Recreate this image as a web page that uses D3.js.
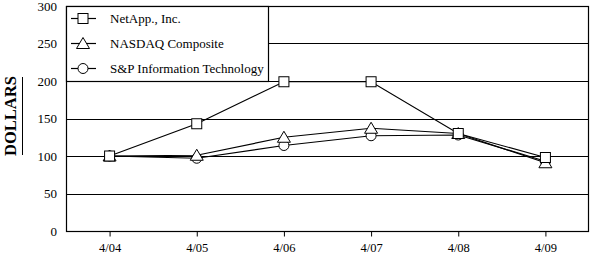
<!DOCTYPE html>
<html>
<head>
<meta charset="utf-8">
<script src="https://cdn.jsdelivr.net/npm/d3@7"></script>
<style>
  body { margin: 0; background: #fff; }
  text { font-family: "Liberation Serif", "Times New Roman", serif; fill: #000; }
</style>
</head>
<body>
<script>
const MARGIN = { top: 6, right: 2, bottom: 23, left: 66 };
const WIDTH = 591 - MARGIN.left - MARGIN.right;
const HEIGHT = 254 - MARGIN.top - MARGIN.bottom;

const years = ["4/04", "4/05", "4/06", "4/07", "4/08", "4/09"];
const netapp = [100, 143, 199, 199, 130, 98];
const nasdaq = [100, 101, 125, 137, 130, 91];
const spit = [100, 97, 114, 127, 128, 93];
const yTicks = [0, 50, 100, 150, 200, 250, 300];

const series = [
  { name: "NetApp., Inc.", values: netapp, marker: "square" },
  { name: "NASDAQ Composite", values: nasdaq, marker: "triangle" },
  { name: "S&P Information Technology", values: spit, marker: "circle" }
];

const svg = d3.select("body").append("svg")
  .attr("width", 591)
  .attr("height", 254);

const g = svg.append("g")
  .attr("transform", "translate(" + MARGIN.left + "," + MARGIN.top + ")");

const x = d3.scalePoint().domain(years).range([0, WIDTH]).padding(0.5);
const y = d3.scaleLinear().domain([0, 300]).range([HEIGHT, 0]);

// gridlines
g.selectAll(".grid")
  .data(yTicks)
  .enter()
  .append("line")
  .attr("x1", 0)
  .attr("x2", WIDTH)
  .attr("y1", d => Math.round(y(d)) + 0.5)
  .attr("y2", d => Math.round(y(d)) + 0.5)
  .attr("stroke", "#000")
  .attr("stroke-width", 1.2);

// frame
g.append("rect")
  .attr("x", 0.5).attr("y", 0.5)
  .attr("width", WIDTH - 1).attr("height", HEIGHT)
  .attr("fill", "none")
  .attr("stroke", "#000")
  .attr("stroke-width", 1.2);

// y labels
g.selectAll(".ylab")
  .data(yTicks)
  .enter()
  .append("text")
  .attr("x", -9)
  .attr("y", d => y(d))
  .attr("dy", "0.35em")
  .attr("text-anchor", "end")
  .attr("font-size", 13)
  .text(d => d);

// x axis
const xAxis = g.append("g")
  .attr("transform", "translate(0," + (HEIGHT + 0.5) + ")")
  .call(d3.axisBottom(x).tickSize(5).tickPadding(7));
xAxis.attr("font-family", null);
xAxis.select(".domain").remove();
xAxis.selectAll("text")
  .style("font-family", "'Liberation Serif', serif")
  .style("font-size", "12.5px");

// y title
svg.append("text")
  .attr("transform", "translate(16,116) rotate(-90)")
  .attr("text-anchor", "middle")
  .attr("font-size", 16.5)
  .attr("font-weight", "bold")
  .text("DOLLARS");
svg.append("line")
  .attr("x1", 22.5).attr("x2", 22.5)
  .attr("y1", 77).attr("y2", 155)
  .attr("stroke", "#000")
  .attr("stroke-width", 1);

function drawMarker(sel, type) {
  if (type === "square") {
    sel.append("rect")
      .attr("x", -5).attr("y", -5).attr("width", 10).attr("height", 10);
  } else if (type === "triangle") {
    sel.append("path").attr("d", "M0,-6L6.5,5L-6.5,5Z");
  } else {
    sel.append("circle").attr("r", 5);
  }
  sel.selectAll("*")
    .attr("fill", "#fff")
    .attr("stroke", "#000")
    .attr("stroke-width", 1);
}

const line = d3.line()
  .x((d, i) => x(years[i]))
  .y(d => y(d));

series.forEach(s => {
  g.append("path")
    .datum(s.values)
    .attr("d", line)
    .attr("fill", "none")
    .attr("stroke", "#000")
    .attr("stroke-width", 1.2);
});
series.slice().reverse().forEach(s => {
  s.values.forEach((v, i) => {
    const m = g.append("g")
      .attr("transform", "translate(" + x(years[i]) + "," + y(v) + ")");
    drawMarker(m, s.marker);
  });
});

// legend
const legend = g.append("g");
legend.append("rect")
  .attr("x", 0.5).attr("y", 0.5)
  .attr("width", 202).attr("height", 75)
  .attr("fill", "#fff")
  .attr("stroke", "#000")
  .attr("stroke-width", 1.2);

series.forEach((s, i) => {
  const ly = 12.5 + i * 25;
  const row = legend.append("g").attr("transform", "translate(0," + ly + ")");
  row.append("line")
    .attr("x1", 5).attr("x2", 30)
    .attr("stroke", "#000").attr("stroke-width", 1.2);
  const m = row.append("g").attr("transform", "translate(17,0)");
  drawMarker(m, s.marker);
  row.append("text")
    .attr("x", 44)
    .attr("dy", "0.35em")
    .attr("font-size", 13)
    .text(s.name);
});
</script>
</body>
</html>
